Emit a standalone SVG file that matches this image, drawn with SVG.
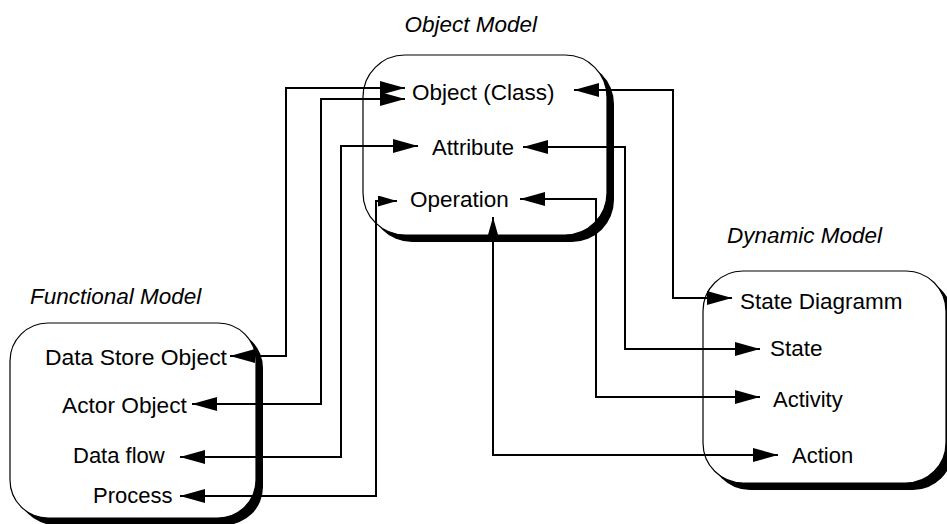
<svg xmlns="http://www.w3.org/2000/svg" width="947" height="524" viewBox="0 0 947 524">
<style>
.box{fill:#fff;stroke:#000;stroke-width:1.2}
.shadow{fill:#000}
.t{font-family:"Liberation Sans",Arial,sans-serif;font-size:22.5px;fill:#000}
.lbl{font-family:"Liberation Sans",Arial,sans-serif;font-size:22.5px;font-style:italic;fill:#000}
.c{fill:none;stroke:#000;stroke-width:2}
</style>
<defs>
<marker id="ah" markerUnits="userSpaceOnUse" markerWidth="26" markerHeight="16" refX="25" refY="7" orient="auto-start-reverse" viewBox="0 0 26 16">
<path d="M0,0 L25,7 L0,14 z" fill="#000"/>
</marker>
<marker id="ahs" markerUnits="userSpaceOnUse" markerWidth="20" markerHeight="12" refX="19" refY="5.5" orient="auto-start-reverse" viewBox="0 0 20 12">
<path d="M0,0 L19,5.5 L0,11 z" fill="#000"/>
</marker>
</defs>
<g id="object-model">
<rect class="shadow" x="370" y="62" width="244" height="180" rx="42"/>
<rect class="box" x="363" y="55" width="244" height="180" rx="42"/>
<text class="lbl" x="537" y="32" text-anchor="end">Object Model</text>
<text class="t" x="412" y="100">Object (Class)</text>
<text class="t" x="432" y="155" style="font-size:22px">Attribute</text>
<text class="t" x="410" y="207">Operation</text>
</g>
<g id="functional-model">
<rect class="shadow" x="17" y="330" width="246" height="195" rx="38"/>
<rect class="box" x="10" y="323" width="246" height="195" rx="38"/>
<text class="lbl" x="30" y="304">Functional Model</text>
<text class="t" x="45" y="365" style="font-size:22.9px">Data Store Object</text>
<text class="t" x="62" y="413" style="font-size:22.7px">Actor Object</text>
<text class="t" x="73" y="463" style="font-size:22px">Data flow</text>
<text class="t" x="93" y="503" style="font-size:22px">Process</text>
</g>
<g id="dynamic-model">
<rect class="shadow" x="710" y="278" width="243" height="212" rx="40"/>
<rect class="box" x="703" y="271" width="243" height="212" rx="40"/>
<text class="lbl" x="727" y="243">Dynamic Model</text>
<text class="t" x="740" y="309">State Diagramm</text>
<text class="t" x="770" y="356">State</text>
<text class="t" x="773" y="407" style="font-size:22px">Activity</text>
<text class="t" x="792" y="463" style="font-size:22px">Action</text>
</g>
<g id="connectors">
<path class="c" d="M230,356 H286 V88 H405" marker-start="url(#ah)" marker-end="url(#ah)"/>
<path class="c" d="M192,404 H321 V99 H405" marker-start="url(#ah)" marker-end="url(#ah)"/>
<path class="c" d="M180,457 H341 V146 H418" marker-start="url(#ah)" marker-end="url(#ah)"/>
<path class="c" d="M180,496 H376 V201 H397" marker-start="url(#ah)" marker-end="url(#ahs)"/>
<path class="c" d="M574,90 H673 V298 H732" marker-start="url(#ah)" marker-end="url(#ah)"/>
<path class="c" d="M523,147 H625 V349 H760" marker-start="url(#ah)" marker-end="url(#ah)"/>
<path class="c" d="M520,199 H596 V397 H760" marker-start="url(#ah)" marker-end="url(#ah)"/>
<path class="c" d="M493,217 V455 H778" marker-start="url(#ah)" marker-end="url(#ah)"/>
</g>
</svg>
